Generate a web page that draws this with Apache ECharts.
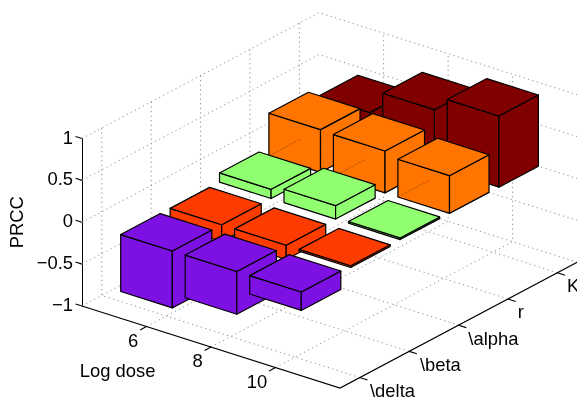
<!DOCTYPE html>
<html>
  <head>
    <meta charset="utf-8" />
    <title>PRCC bars</title>
    <script src="https://cdn.jsdelivr.net/npm/echarts@6/dist/echarts.min.js"></script>
    <style>
      html, body { margin: 0; padding: 0; background: #fff; overflow: hidden; }
    </style>
  </head>
  <body>
    <div id="main" style="width: 577px; height: 397px"></div>

    <script type="text/javascript">
      // tick labels
      var doseLabels = ["6", "8", "10"];
      var paramLabels = ["\\delta", "\\beta", "\\alpha", "r", "K"];
      var zTicks = [-1, -0.5, 0, 0.5, 1];

      // PRCC per parameter, one value per dose
      var deltaValues = [-0.68, -0.51, -0.22];
      var betaValues = [-0.2, -0.17, -0.02];
      var alphaValues = [0.11, 0.16, 0.02];
      var rValues = [0.51, 0.5, 0.45];
      var kValues = [0.4, 0.68, 0.85];
      var rows = [deltaValues, betaValues, alphaValues, rValues, kValues];
      var rowColors = ["#7d10e2", "#ff3c00", "#90ff70", "#ff7500", "#800000"];

      // box size in bar3 units
      var uMax = 4;
      var vMax = 4.8;
      var barHalf = 0.4;

      // oblique view: horizontal goes to xAxis, vertical is in PRCC units of the yAxis
      function project(u, v, z) {
        return [u * 64.5 + v * 49.4, z - u * 0.245 + v * 0.313];
      }

      var chart = echarts.init(document.getElementById("main"));

      function polyline(api, pts, style) {
        return {
          type: "polyline",
          shape: {
            points: pts.map(function (p) {
              return api.coord(project(p[0], p[1], p[2]));
            }),
          },
          style: style,
        };
      }

      // dotted grid on the floor and the two back walls
      var gridStyle = { stroke: "#8a8a8a", lineWidth: 1, lineDash: [1.2, 3.4], fill: null };
      var gridLines = [];
      doseLabels.forEach(function (d, i) {
        var u = i + 1;
        gridLines.push([[u, 0, -1], [u, vMax, -1], [u, vMax, 1]]);
      });
      paramLabels.forEach(function (p, i) {
        var v = i + 0.4;
        gridLines.push([[0, v, 1], [0, v, -1], [uMax, v, -1]]);
      });
      zTicks.forEach(function (z) {
        gridLines.push([[0, 0, z], [0, vMax, z], [uMax, vMax, z]]);
      });

      // black axis lines and tick marks
      var axisStyle = { stroke: "#000", lineWidth: 1.1, fill: null };
      var axisLines = [[[0, 0, -1], [uMax, 0, -1], [uMax, vMax, -1]]];
      doseLabels.forEach(function (d, i) {
        axisLines.push([[i + 1, 0, -1], [i + 1, -0.13, -1]]);
      });
      paramLabels.forEach(function (p, i) {
        axisLines.push([[uMax, i + 0.4, -1], [uMax + 0.12, i + 0.4, -1]]);
      });
      zTicks.forEach(function (z) {
        axisLines.push([[0, 0, z], [-0.1, 0, z]]);
      });

      // bars, back row first so nearer ones paint over
      var barData = [];
      for (var r = rows.length - 1; r >= 0; r--) {
        rows[r].forEach(function (val, c) {
          barData.push([c + 1, r + 0.4, val, r]);
        });
      }

      function renderBar(params, api) {
        var u = api.value(0);
        var v = api.value(1);
        var val = api.value(2);
        var row = api.value(3);
        var hi = Math.max(val, 0);
        var lo = Math.min(val, 0);
        var u0 = u - barHalf;
        var u1 = u + barHalf;
        var v0 = v - barHalf;
        var v1 = v + barHalf;
        var style = { fill: rowColors[row], stroke: "#000", lineWidth: 1.2, lineJoin: "round" };
        function face(pts) {
          return {
            type: "polygon",
            shape: {
              points: pts.map(function (p) {
                return api.coord(project(p[0], p[1], p[2]));
              }),
            },
            style: style,
          };
        }
        var children = [
          face([[u0, v0, hi], [u1, v0, hi], [u1, v0, lo], [u0, v0, lo]]),
          face([[u1, v0, hi], [u1, v1, hi], [u1, v1, lo], [u1, v0, lo]]),
          face([[u0, v0, hi], [u1, v0, hi], [u1, v1, hi], [u0, v1, hi]]),
        ];
        // the r bars let their hidden base edge show faintly through the front face
        if (row === 3) {
          children.push(
            polyline(api, [[u0, v0, 0], [u0, v1 - 0.15, 0]], {
              stroke: "rgba(110,50,0,0.45)",
              lineWidth: 1,
              lineDash: [3, 1],
              fill: null,
            })
          );
        }
        return { type: "group", children: children };
      }

      // tick labels on the floor axes: [text, u, v, dx, dy, align]
      var labelFont = '18.4px "Liberation Sans", Arial, sans-serif';
      var floorLabels = [];
      var doseDx = [-7, -7, -12];
      doseLabels.forEach(function (d, i) {
        floorLabels.push([d, i + 1, -0.13, doseDx[i], 11.5, "center"]);
      });
      var paramDx = [2.5, 3, 2, 2, 2];
      paramLabels.forEach(function (p, i) {
        floorLabels.push([p, uMax + 0.12, i + 0.4, paramDx[i], 12, "left"]);
      });
      floorLabels.push(["Log dose", 1.35, -0.86, -9, 16, "center"]);

      var option = {
        animation: false,
        grid: { left: 82, top: 138.5, width: 495, height: 167.5, containLabel: false },
        xAxis: { type: "value", min: 0, max: 495, show: false },
        yAxis: {
          type: "value",
          min: -1,
          max: 1,
          interval: 0.5,
          name: "PRCC",
          nameLocation: "middle",
          nameGap: 55,
          nameMoveOverlap: false,
          nameTextStyle: { color: "#000", fontFamily: "Liberation Sans", fontSize: 18.4 },
          splitLine: { show: false },
          axisTick: { show: false },
          axisLine: { show: true, lineStyle: { color: "#000", width: 1 } },
          axisLabel: {
            color: "#000",
            fontFamily: "Liberation Sans",
            fontSize: 18.4,
            margin: 9,
            formatter: function (val) {
              return String(val).replace("-", "\u2212");
            },
          },
        },
        series: [
          {
            type: "custom",
            coordinateSystem: "cartesian2d",
            clip: false,
            silent: true,
            z: 1,
            data: gridLines.map(function (l, i) {
              return [i];
            }),
            renderItem: function (params, api) {
              return polyline(api, gridLines[api.value(0)], gridStyle);
            },
          },
          {
            type: "custom",
            coordinateSystem: "cartesian2d",
            clip: false,
            silent: true,
            z: 2,
            data: axisLines.map(function (l, i) {
              return [i];
            }),
            renderItem: function (params, api) {
              return polyline(api, axisLines[api.value(0)], axisStyle);
            },
          },
          {
            type: "custom",
            coordinateSystem: "cartesian2d",
            clip: false,
            silent: true,
            z: 3,
            data: barData,
            renderItem: renderBar,
          },
          {
            type: "custom",
            coordinateSystem: "cartesian2d",
            clip: false,
            silent: true,
            z: 4,
            data: floorLabels.map(function (l, i) {
              return [i];
            }),
            renderItem: function (params, api) {
              var l = floorLabels[api.value(0)];
              var pt = api.coord(project(l[1], l[2], -1));
              return {
                type: "text",
                x: pt[0] + l[3],
                y: pt[1] + l[4],
                style: {
                  text: l[0],
                  font: labelFont,
                  fill: "#000",
                  textAlign: l[5],
                  textVerticalAlign: "middle",
                },
              };
            },
          },
        ],
      };
      chart.setOption(option);
    </script>
  </body>
</html>
